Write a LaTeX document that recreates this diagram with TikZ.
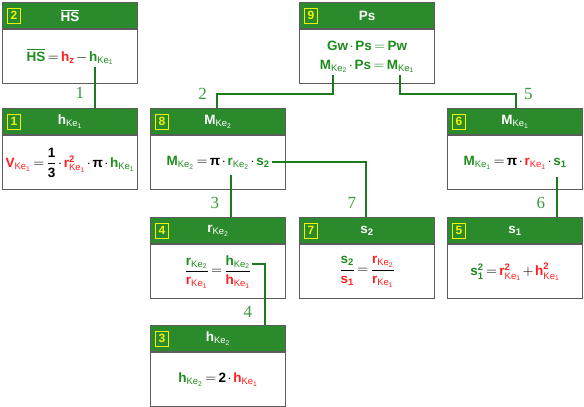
\documentclass[tikz,border=0pt]{standalone}
\usepackage{amsmath}
\usepackage{xcolor}
\usepackage{fontspec}
\setmainfont{Liberation Sans}
\newfontfamily\numfont{Liberation Serif}
\usepackage{tikz}
\usetikzlibrary{positioning}
\definecolor{HeadGreen}{HTML}{2B8A2B}
\definecolor{TextGreen}{HTML}{1F8C1F}
\definecolor{TextRed}{HTML}{FF1E1E}
\definecolor{LinkGreen}{HTML}{1E7A1E}
\definecolor{NumGreen}{HTML}{3C9A3C}
\definecolor{FrameGray}{HTML}{5C5C5C}
\definecolor{TagYellow}{HTML}{F2F200}
\newcommand\Ke[1]{_{\text{\mdseries Ke}_{\text{\mdseries #1}}}}
\newcommand\gr[1]{\textcolor{TextGreen}{#1}}
\newcommand\rd[1]{\textcolor{TextRed}{#1}}
\newcommand\tightmath{\thickmuskip=3mu\relax\medmuskip=2mu\relax}
\tikzset{
  chart/.style={x=1pt,y=-1pt,font=\fontsize{13.5}{16}\selectfont\bfseries\tightmath},
  head/.style={anchor=north west,fill=HeadGreen,draw=FrameGray,line width=1.2pt,minimum width=135pt,minimum height=26pt,inner sep=0pt,text=white},
  body/.style={fill=white,draw=FrameGray,line width=1.2pt,minimum width=135pt,minimum height=54pt,inner sep=0pt,align=center},
  tag/.style={draw=TagYellow,text=TagYellow,line width=0.8pt,minimum width=13pt,minimum height=15pt,inner sep=0pt,font=\fontsize{12}{12}\selectfont\bfseries},
  link/.style={draw=LinkGreen,line width=1.6pt},
  numlab/.style={text=NumGreen,inner sep=0pt,font=\numfont\fontsize{17}{17}\selectfont},
}
\begin{document}
\begin{tikzpicture}[chart]
  \useasboundingbox (0,0) rectangle (584,407);

  \node[head] (h2) at (2,2) {$\overline{\text{HS}}$};
  \node[body,below=0pt of h2] (b2) {$\gr{\overline{\text{HS}}}=\rd{\text{h}_{\text{z}}}-\gr{\text{h}\Ke{1}}$};
  \node[tag,right=5pt of h2.west] (t2) {2};

  \node[head] (h1) at (2,108) {$\text{h}\Ke{1}$};
  \node[body,below=0pt of h1] (b1) {$\rd{\text{V}\Ke{1}}=\dfrac{\text{1}}{\text{3}}\cdot\rd{\text{r}^{\text{2}}\Ke{1}}\cdot\text{π}\cdot\gr{\text{h}\Ke{1}}$};
  \node[tag,right=5pt of h1.west] (t1) {1};

  \node[head] (h9) at (299,2) {$\text{Ps}$};
  \node[body,below=0pt of h9] (b9) {$\gr{\text{Gw}\cdot\text{Ps}=\text{Pw}}$\\[3pt]
    $\gr{\text{M}\Ke{2}\cdot\text{Ps}=\text{M}\Ke{1}}$};
  \node[tag,right=5pt of h9.west] (t9) {9};

  \node[head] (h8) at (150,108) {$\text{M}\Ke{2}$};
  \node[body,below=0pt of h8] (b8) {$\gr{\text{M}\Ke{2}}=\text{π}\cdot\gr{\text{r}\Ke{2}}\cdot\gr{\text{s}_{\text{2}}}$};
  \node[tag,right=5pt of h8.west] (t8) {8};

  \node[head] (h6) at (447,108) {$\text{M}\Ke{1}$};
  \node[body,below=0pt of h6] (b6) {$\gr{\text{M}\Ke{1}}=\text{π}\cdot\rd{\text{r}\Ke{1}}\cdot\gr{\text{s}_{\text{1}}}$};
  \node[tag,right=5pt of h6.west] (t6) {6};

  \node[head] (h4) at (150,217) {$\text{r}\Ke{2}$};
  \node[body,below=0pt of h4] (b4) {$\dfrac{\gr{\text{r}\Ke{2}}}{\rd{\text{r}\Ke{1}}}=\dfrac{\gr{\text{h}\Ke{2}}}{\rd{\text{h}\Ke{1}}}$};
  \node[tag,right=5pt of h4.west] (t4) {4};

  \node[head] (h7) at (299,217) {$\text{s}_{\text{2}}$};
  \node[body,below=0pt of h7] (b7) {$\dfrac{\gr{\text{s}_{\text{2}}}}{\rd{\text{s}_{\text{1}}}}=\dfrac{\rd{\text{r}\Ke{2}}}{\rd{\text{r}\Ke{1}}}$};
  \node[tag,right=5pt of h7.west] (t7) {7};

  \node[head] (h5) at (447,217) {$\text{s}_{\text{1}}$};
  \node[body,below=0pt of h5] (b5) {$\gr{\text{s}^{\text{2}}_{\text{1}}}=\rd{\text{r}^{\text{2}}\Ke{1}}+\rd{\text{h}^{\text{2}}\Ke{1}}$};
  \node[tag,right=5pt of h5.west] (t5) {5};

  \node[head] (h3) at (150,325) {$\text{h}\Ke{2}$};
  \node[body,below=0pt of h3] (b3) {$\gr{\text{h}\Ke{2}}=\text{2}\cdot\rd{\text{h}\Ke{1}}$};
  \node[tag,right=5pt of h3.west] (t3) {3};

  \coordinate (o2) at (95,67);
  \coordinate (o9l) at (333,75);
  \coordinate (o9r) at (400,75);
  \coordinate (j2) at (217,94);
  \coordinate (j5) at (516,94);
  \coordinate (o8d) at (231,175);
  \coordinate (o8r) at (272,162);
  \coordinate (j7) at (366,162);
  \coordinate (o6) at (557,177);
  \coordinate (o4) at (252,264);
  \coordinate (j4) at (265,264);

  \draw[link] (o2) -- (o2 |- h1.north) node[numlab,pos=0.63,left=10pt] {1};
  \draw[link] (o9l) |- (j2) -- (j2 |- h8.north);
  \node[numlab,left=10pt of j2] (n2) {2};
  \draw[link] (o9r) |- (j5) -- (j5 |- h6.north);
  \node[numlab,right=8pt of j5] (n5) {5};
  \draw[link] (o8d) -- (o8d |- h4.north) node[numlab,pos=0.67,left=11pt] {3};
  \draw[link] (o8r) -- (j7) -- (j7 |- h7.north) node[numlab,pos=0.75,left=9pt] {7};
  \draw[link] (o6) -- (o6 |- h5.north) node[numlab,pos=0.65,left=11pt] {6};
  \draw[link] (o4) -- (j4) -- (j4 |- h3.north) node[numlab,pos=0.79,left=12pt] {4};
\end{tikzpicture}
\end{document}
